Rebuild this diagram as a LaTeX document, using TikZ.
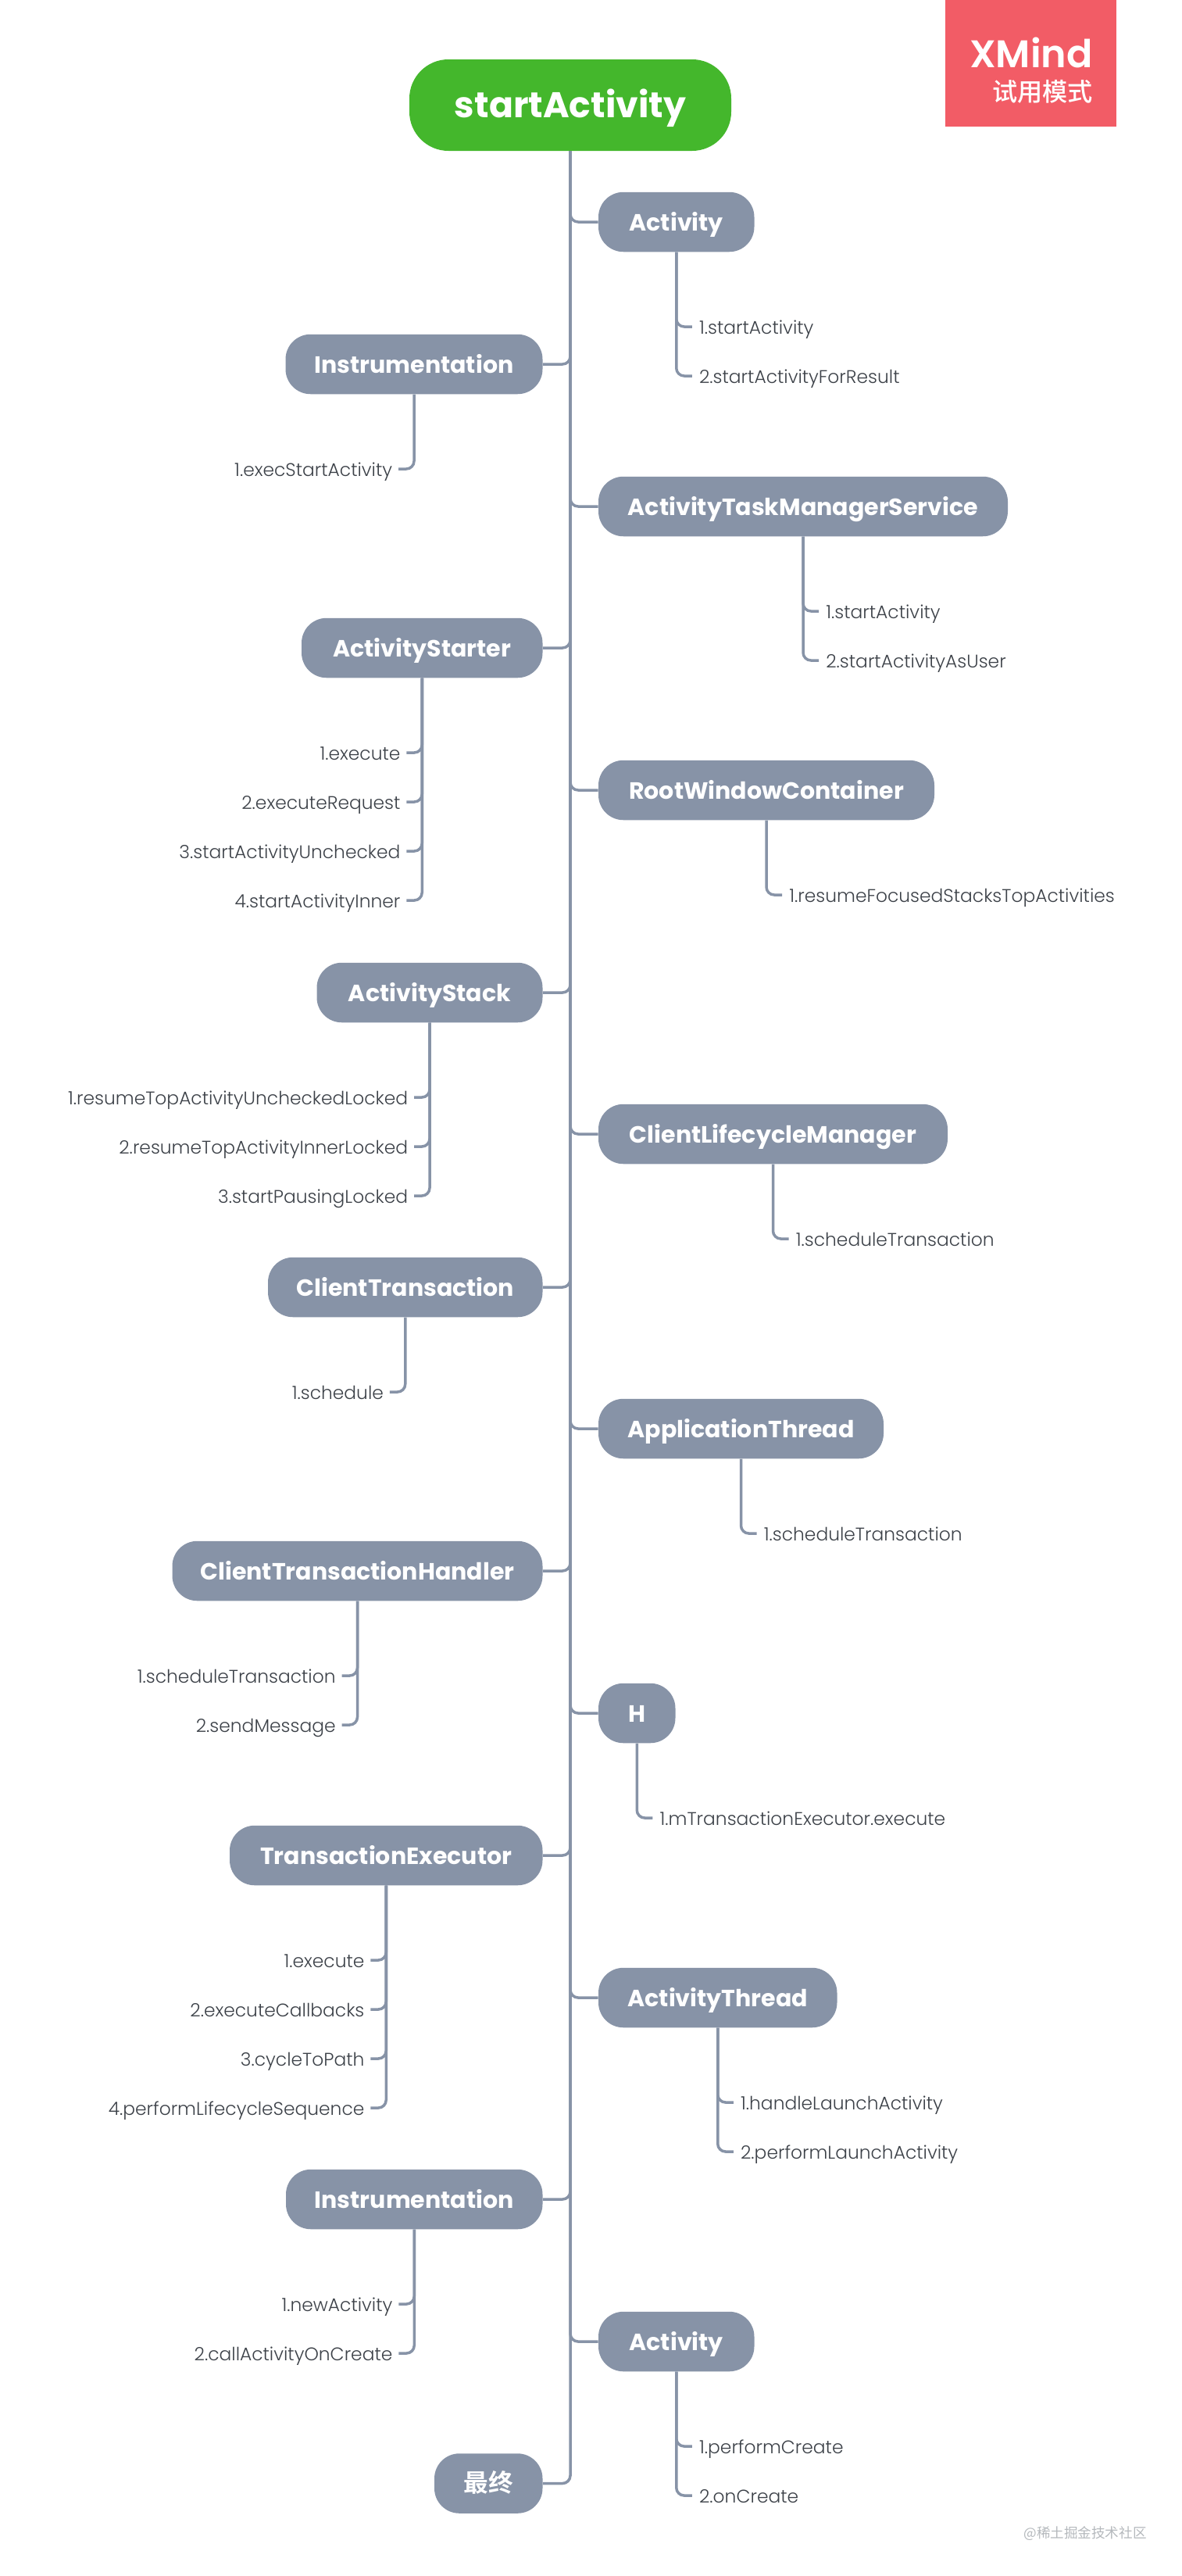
\documentclass[tikz,border=0pt]{standalone}
\usepackage{fontspec}
\setmainfont{Poppins}
\newfontfamily\markfont{Poppins SemiBold}
\newfontfamily\topicfont{Poppins Bold}
\newfontfamily\leaffont{Poppins Light}
\newfontfamily\cjkfont{Noto Sans CJK SC}
\newfontfamily\cjkmediumfont{Noto Sans CJK SC Medium}
\newfontfamily\cjkboldfont{Noto Sans CJK SC Bold}
\usetikzlibrary{positioning}
\definecolor{topic_gray}{HTML}{8793A7}
\definecolor{root_green}{HTML}{44B72C}
\definecolor{mark_red}{HTML}{F25C66}
\definecolor{leaf_ink}{HTML}{3C4148}
\definecolor{stamp_gray}{HTML}{B4B8BC}

\begin{document}
\begin{tikzpicture}[
        root_style/.style={rectangle,rounded corners=1cm,fill=root_green,text=white,minimum width=8.24cm,minimum height=2.34cm,inner sep=0pt,text height=0.70cm,text depth=0.06cm,font=\topicfont\fontsize{26}{31}\selectfont},
        node_style/.style={rectangle,rounded corners=0.64cm,fill=topic_gray,text=white,minimum height=1.53cm,inner sep=0pt,text height=0.50cm,text depth=0.06cm,font=\topicfont\fontsize{17.1}{21}\selectfont},
        leaf_left_style/.style={anchor=east,inner xsep=0.15cm,inner ysep=0pt,text=leaf_ink,text height=0.44cm,text depth=0.08cm,font=\leaffont\fontsize{13.3}{16}\selectfont},
        leaf_right_style/.style={leaf_left_style,anchor=west,inner xsep=0.18cm},
        edge_style/.style={draw=topic_gray,line width=0.07cm,rounded corners=0.2cm}]

        \useasboundingbox (0,0) rectangle (30.24,-65.92);

        \node [rectangle,fill=mark_red,minimum width=4.38cm,minimum height=3.24cm,inner sep=0pt](mark) at (26.39,-1.62) {};

        \node [anchor=east,inner sep=0pt,text=white,font=\markfont\fontsize{28}{33}\selectfont](markname) at (27.98,-1.34) {XMind};

        \node [anchor=east,inner sep=0pt,text=white,font=\cjkmediumfont\fontsize{18.3}{22}\selectfont](markmode) at (27.98,-2.34) {试用模式};

        \node [root_style](root) at (14.60,-2.69) {startActivity};

        \node [node_style,minimum width=3.99cm](n1) at (17.315,-5.68) {Activity};

        \node [node_style,minimum width=6.58cm](n2) at (10.60,-9.32) {Instrumentation};

        \node [node_style,minimum width=10.48cm](n3) at (20.56,-12.96) {ActivityTaskManagerService};

        \node [node_style,minimum width=6.17cm](n4) at (10.805,-16.58) {ActivityStarter};

        \node [node_style,minimum width=8.60cm](n5) at (19.62,-20.22) {RootWindowContainer};

        \node [node_style,minimum width=5.78cm](n6) at (11.00,-25.40) {ActivityStack};

        \node [node_style,minimum width=8.94cm](n7) at (19.79,-29.02) {ClientLifecycleManager};

        \node [node_style,minimum width=7.03cm](n8) at (10.375,-32.94) {ClientTransaction};

        \node [node_style,minimum width=7.30cm](n9) at (18.97,-36.56) {ApplicationThread};

        \node [node_style,minimum width=9.48cm](n10) at (9.15,-40.20) {ClientTransactionHandler};

        \node [node_style,minimum width=1.97cm](n11) at (16.305,-43.84) {H};

        \node [node_style,minimum width=8.01cm](n12) at (9.885,-47.48) {TransactionExecutor};

        \node [node_style,minimum width=6.11cm](n13) at (18.375,-51.12) {ActivityThread};

        \node [node_style,minimum width=6.57cm](n14) at (10.605,-56.28) {Instrumentation};

        \node [node_style,minimum width=3.99cm](n15) at (17.315,-59.92) {Activity};

        \node [node_style,minimum width=2.77cm,font=\cjkboldfont\fontsize{18}{22}\selectfont](n16) at (12.505,-63.55) {最终};

        \node [leaf_right_style](l1a) at (17.715,-8.36) {1.startActivity};
        \node [leaf_right_style](l1b) at (17.715,-9.62) {2.startActivityForResult};

        \node [leaf_left_style](l2a) at (10.20,-12.00) {1.execStartActivity};

        \node [leaf_right_style](l3a) at (20.96,-15.64) {1.startActivity};
        \node [leaf_right_style](l3b) at (20.96,-16.90) {2.startActivityAsUser};

        \node [leaf_left_style](l4a) at (10.405,-19.26) {1.execute};
        \node [leaf_left_style](l4b) at (10.405,-20.52) {2.executeRequest};
        \node [leaf_left_style](l4c) at (10.405,-21.78) {3.startActivityUnchecked};
        \node [leaf_left_style](l4d) at (10.405,-23.04) {4.startActivityInner};

        \node [leaf_right_style](l5a) at (20.02,-22.90) {1.resumeFocusedStacksTopActivities};

        \node [leaf_left_style](l6a) at (10.60,-28.08) {1.resumeTopActivityUncheckedLocked};
        \node [leaf_left_style](l6b) at (10.60,-29.34) {2.resumeTopActivityInnerLocked};
        \node [leaf_left_style](l6c) at (10.60,-30.60) {3.startPausingLocked};

        \node [leaf_right_style](l7a) at (20.19,-31.70) {1.scheduleTransaction};

        \node [leaf_left_style](l8a) at (9.975,-35.62) {1.schedule};

        \node [leaf_right_style](l9a) at (19.37,-39.24) {1.scheduleTransaction};

        \node [leaf_left_style](l10a) at (8.75,-42.88) {1.scheduleTransaction};
        \node [leaf_left_style](l10b) at (8.75,-44.14) {2.sendMessage};

        \node [leaf_right_style](l11a) at (16.705,-46.52) {1.mTransactionExecutor.execute};

        \node [leaf_left_style](l12a) at (9.485,-50.16) {1.execute};
        \node [leaf_left_style](l12b) at (9.485,-51.42) {2.executeCallbacks};
        \node [leaf_left_style](l12c) at (9.485,-52.68) {3.cycleToPath};
        \node [leaf_left_style](l12d) at (9.485,-53.94) {4.performLifecycleSequence};

        \node [leaf_right_style](l13a) at (18.775,-53.80) {1.handleLaunchActivity};
        \node [leaf_right_style](l13b) at (18.775,-55.06) {2.performLaunchActivity};

        \node [leaf_left_style](l14a) at (10.205,-58.96) {1.newActivity};
        \node [leaf_left_style](l14b) at (10.205,-60.22) {2.callActivityOnCreate};

        \node [leaf_right_style](l15a) at (17.715,-62.60) {1.performCreate};
        \node [leaf_right_style](l15b) at (17.715,-63.86) {2.onCreate};

        \node [anchor=east,inner sep=0pt,text=stamp_gray,font=\cjkfont\fontsize{10}{12}\selectfont](stamp) at (29.36,-64.83) {@稀土掘金技术社区};

        \draw [edge_style] (root.south) |- (n1.west);
        \draw [edge_style] (root.south) |- (n2.east);
        \draw [edge_style] (root.south) |- (n3.west);
        \draw [edge_style] (root.south) |- (n4.east);
        \draw [edge_style] (root.south) |- (n5.west);
        \draw [edge_style] (root.south) |- (n6.east);
        \draw [edge_style] (root.south) |- (n7.west);
        \draw [edge_style] (root.south) |- (n8.east);
        \draw [edge_style] (root.south) |- (n9.west);
        \draw [edge_style] (root.south) |- (n10.east);
        \draw [edge_style] (root.south) |- (n11.west);
        \draw [edge_style] (root.south) |- (n12.east);
        \draw [edge_style] (root.south) |- (n13.west);
        \draw [edge_style] (root.south) |- (n14.east);
        \draw [edge_style] (root.south) |- (n15.west);
        \draw [edge_style] (root.south) |- (n16.east);

        \draw [edge_style] (n1.south) |- (l1a.west);
        \draw [edge_style] (n1.south) |- (l1b.west);
        \draw [edge_style] (n2.south) |- (l2a.east);
        \draw [edge_style] (n3.south) |- (l3a.west);
        \draw [edge_style] (n3.south) |- (l3b.west);
        \draw [edge_style] (n4.south) |- (l4a.east);
        \draw [edge_style] (n4.south) |- (l4b.east);
        \draw [edge_style] (n4.south) |- (l4c.east);
        \draw [edge_style] (n4.south) |- (l4d.east);
        \draw [edge_style] (n5.south) |- (l5a.west);
        \draw [edge_style] (n6.south) |- (l6a.east);
        \draw [edge_style] (n6.south) |- (l6b.east);
        \draw [edge_style] (n6.south) |- (l6c.east);
        \draw [edge_style] (n7.south) |- (l7a.west);
        \draw [edge_style] (n8.south) |- (l8a.east);
        \draw [edge_style] (n9.south) |- (l9a.west);
        \draw [edge_style] (n10.south) |- (l10a.east);
        \draw [edge_style] (n10.south) |- (l10b.east);
        \draw [edge_style] (n11.south) |- (l11a.west);
        \draw [edge_style] (n12.south) |- (l12a.east);
        \draw [edge_style] (n12.south) |- (l12b.east);
        \draw [edge_style] (n12.south) |- (l12c.east);
        \draw [edge_style] (n12.south) |- (l12d.east);
        \draw [edge_style] (n13.south) |- (l13a.west);
        \draw [edge_style] (n13.south) |- (l13b.west);
        \draw [edge_style] (n14.south) |- (l14a.east);
        \draw [edge_style] (n14.south) |- (l14b.east);
        \draw [edge_style] (n15.south) |- (l15a.west);
        \draw [edge_style] (n15.south) |- (l15b.west);

\end{tikzpicture}
\end{document}
